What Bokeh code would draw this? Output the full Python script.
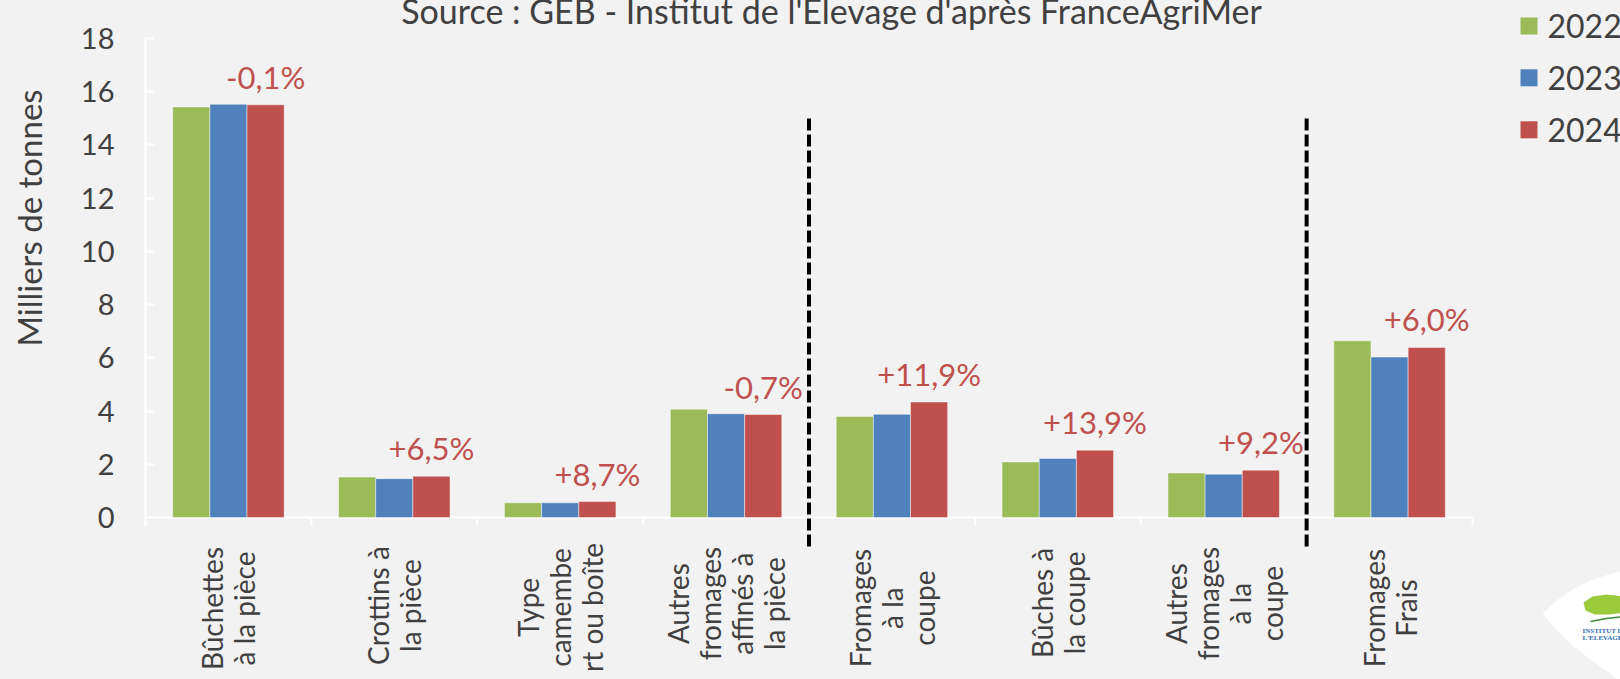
import math
from bokeh.plotting import figure
from bokeh.models import Range1d, FixedTicker, ColumnDataSource, Label
from bokeh.transform import dodge
from bokeh.core.properties import value
from bokeh.embed import file_html
from bokeh.resources import INLINE

# ---------------- data ----------------
categories = ["Bûchettes à la pièce", "Crottins à la pièce", "Type camembert ou boîte",
              "Autres fromages affinés à la pièce", "Fromages à la coupe",
              "Bûches à la coupe", "Autres fromages à la coupe", "Fromages Frais"]
category_labels = ["Bûchettes\nà la pièce", "Crottins à\nla pièce", "Type\ncamembe\nrt ou boîte",
                   "Autres\nfromages\naffinés à\nla pièce", "Fromages\nà la\ncoupe",
                   "Bûches à\nla coupe", "Autres\nfromages\nà la\ncoupe", "Fromages\nFrais"]
years = ["2022", "2023", "2024"]
v2022 = [15.43, 1.52, 0.55, 4.07, 3.80, 2.09, 1.67, 6.64]
v2023 = [15.53, 1.46, 0.55, 3.90, 3.88, 2.22, 1.63, 6.03]
v2024 = [15.51, 1.55, 0.60, 3.87, 4.34, 2.53, 1.78, 6.39]
variation = ["-0,1%", "+6,5%", "+8,7%", "-0,7%", "+11,9%", "+13,9%", "+9,2%", "+6,0%"]
y_ticks = [0, 2, 4, 6, 8, 10, 12, 14, 16, 18]
group_breaks_after = ["Autres fromages affinés à la pièce", "Autres fromages à la coupe"]
title_text = "Source : GEB - Institut de l'Elevage d'après FranceAgriMer"
y_title = "Milliers de tonnes"
logo_lines = ["INSTITUT DE", "L'ELEVAGE"]

# ---------------- style / layout (page pixels) ----------------
OFF = -8                     # canvas origin on the page (negative margin)
W, H = 1628, 687
AX_X0, AX_X1 = 145, 1472     # x-axis extent on the page
Y0_PX = 517                  # page y of value 0
PPU = 26.61                  # px per y unit
CAT_W = (AX_X1 - AX_X0) / len(categories)
BAR_W = 0.224
COLORS = ["#9BBB59", "#4F81BD", "#C0504D"]
TXT = "#404040"
FONT = "Lato"
BG = "#F2F2F2"


def dy(page_y):
    return (Y0_PX - page_y) / PPU


def dx(page_x):
    return (page_x - AX_X0) / CAT_W


n = len(categories)
xc = [i + 0.5 for i in range(n)]
src = ColumnDataSource(dict(x=xc, cat=categories, v2022=v2022, v2023=v2023, v2024=v2024,
                            pct=variation, pct_y=[v + 28 / PPU for v in v2024]))

p = figure(width=W, height=H, x_range=Range1d(dx(OFF), dx(OFF + W)),
           y_range=Range1d(dy(OFF + H), dy(OFF)), output_backend="svg",
           toolbar_location=None, x_axis_location=None,
           min_border_left=0, min_border_right=0, min_border_top=0, min_border_bottom=0)
p.styles = {"margin-left": "-8px", "margin-top": "-8px"}
p.background_fill_color = BG
p.border_fill_color = BG
p.outline_line_color = None
p.grid.visible = False

# y axis, drawn at x = 0 inside the frame
ya = p.yaxis[0]
ya.fixed_location = 0
ya.ticker = FixedTicker(ticks=y_ticks)
ya.bounds = (-0.3, 18)
ya.axis_line_color = "white"
ya.axis_line_width = 2
ya.major_tick_in = 9
ya.major_tick_out = 0
ya.major_tick_line_color = "white"
ya.major_tick_line_width = 2
ya.minor_tick_line_color = None
ya.major_label_text_font = FONT
ya.major_label_text_font_size = "29px"
ya.major_label_text_color = TXT
ya.major_label_standoff = 31

# x axis line & ticks
p.segment(x0=[0], x1=[n], y0=[0], y1=[0], line_color="white", line_width=2)
p.segment(x0=list(range(n + 1)), x1=list(range(n + 1)), y0=[0] * (n + 1),
          y1=[-8 / PPU] * (n + 1), line_color="white", line_width=2)

# bars
renderers = []
for off, col, yr in zip([-BAR_W, 0, BAR_W], COLORS, ["v2022", "v2023", "v2024"]):
    r = p.vbar(x=dodge("x", off), top=yr, width=BAR_W, source=src,
               fill_color=col, line_color="white", line_alpha=0.45, line_width=1)
    renderers.append(r)

# separators
sep_x = [categories.index(c) + 1 for c in group_breaks_after]
p.segment(x0=sep_x, x1=sep_x, y0=[dy(546)] * len(sep_x), y1=[dy(117)] * len(sep_x),
          line_color="black", line_width=4, line_dash="12 4")

# variation labels
p.text(x=dodge("x", BAR_W), y="pct_y", text="pct", source=src,
       text_align="center", text_baseline="middle", text_font=value(FONT),
       text_font_size="31px", text_color="#C0504D")


# category labels (rotated, each line centred)
def est_width(s, size):
    w = 0
    for ch in s:
        if ch in "il.,'|ìíî":
            w += 0.24
        elif ch in "ftr":
            w += 0.33
        elif ch == " ":
            w += 0.26
        elif ch in "mw":
            w += 0.82
        elif ch in "MW":
            w += 0.9
        elif ch.isupper():
            w += 0.65
        else:
            w += 0.52
    return w * size


CAT_FS = 28
LINE_SP = 32
for i, lab in enumerate(category_labels):
    lines = lab.split("\n")
    L = max(est_width(s, CAT_FS) for s in lines)
    k = len(lines)
    for j, s in enumerate(lines):
        p.add_layout(Label(x=xc[i] + (j - (k - 1) / 2) * LINE_SP / CAT_W, y=dy(546 + L / 2),
                           text=s, angle=math.pi / 2, text_align="center",
                           text_baseline="middle", text_font=FONT,
                           text_font_size=f"{CAT_FS}px", text_color=TXT))

# title & y title
p.add_layout(Label(x=dx(831), y=dy(10), text=title_text, text_align="center",
                   text_baseline="alphabetic", text_font=FONT, text_font_size="34px",
                   text_color=TXT))
p.add_layout(Label(x=dx(28.5), y=dy(217.5), text=y_title, angle=math.pi / 2,
                   text_align="center", text_baseline="middle", text_font=FONT,
                   text_font_size="33px", text_color=TXT))

# legend (drawn by hand to place it exactly)
LEG_Y = [25.5, 77.3, 129.3]
leg_src = ColumnDataSource(dict(x=[dx(1528.5)] * 3, y=[dy(v) for v in LEG_Y],
                                tx=[dx(1547)] * 3, label=years, color=COLORS))
p.rect(x="x", y="y", width=17, height=17, width_units="screen", height_units="screen",
       fill_color="color", line_color=None, source=leg_src)
p.text(x="tx", y="y", text="label", source=leg_src, text_align="left",
       text_baseline="middle", text_font=value(FONT), text_font_size="32px",
       text_color=TXT)

# logo in the bottom-right corner
blob = [(1542, 613), (1556, 600), (1572, 589), (1590, 580), (1608, 574), (1625, 570),
        (1625, 685), (1608, 672), (1590, 659), (1572, 645), (1556, 629)]
p.patch(x=[dx(a) for a, b in blob], y=[dy(b) for a, b in blob], fill_color="white",
        line_color=None)
leaf = [(1583, 602), (1592, 596), (1606, 594), (1625, 596), (1625, 612), (1608, 614),
        (1594, 614), (1585, 610)]
p.patch(x=[dx(a) for a, b in leaf], y=[dy(b) for a, b in leaf], fill_color="#9BCB3C",
        line_color=None)
p.line(x=[dx(1590), dx(1606), dx(1625)], y=[dy(621), dy(618), dy(616)],
       line_color="#3A8A3A", line_width=1.5)
p.text(x=[dx(1582)] * 2, y=[dy(630), dy(637)], text=logo_lines, text_align="left",
       text_baseline="middle", text_font=value("Liberation Sans Narrow"),
       text_font_size="7px", text_font_style="bold", text_color="#2E6DB4")

open("out.html", "w").write(file_html(p, INLINE))
